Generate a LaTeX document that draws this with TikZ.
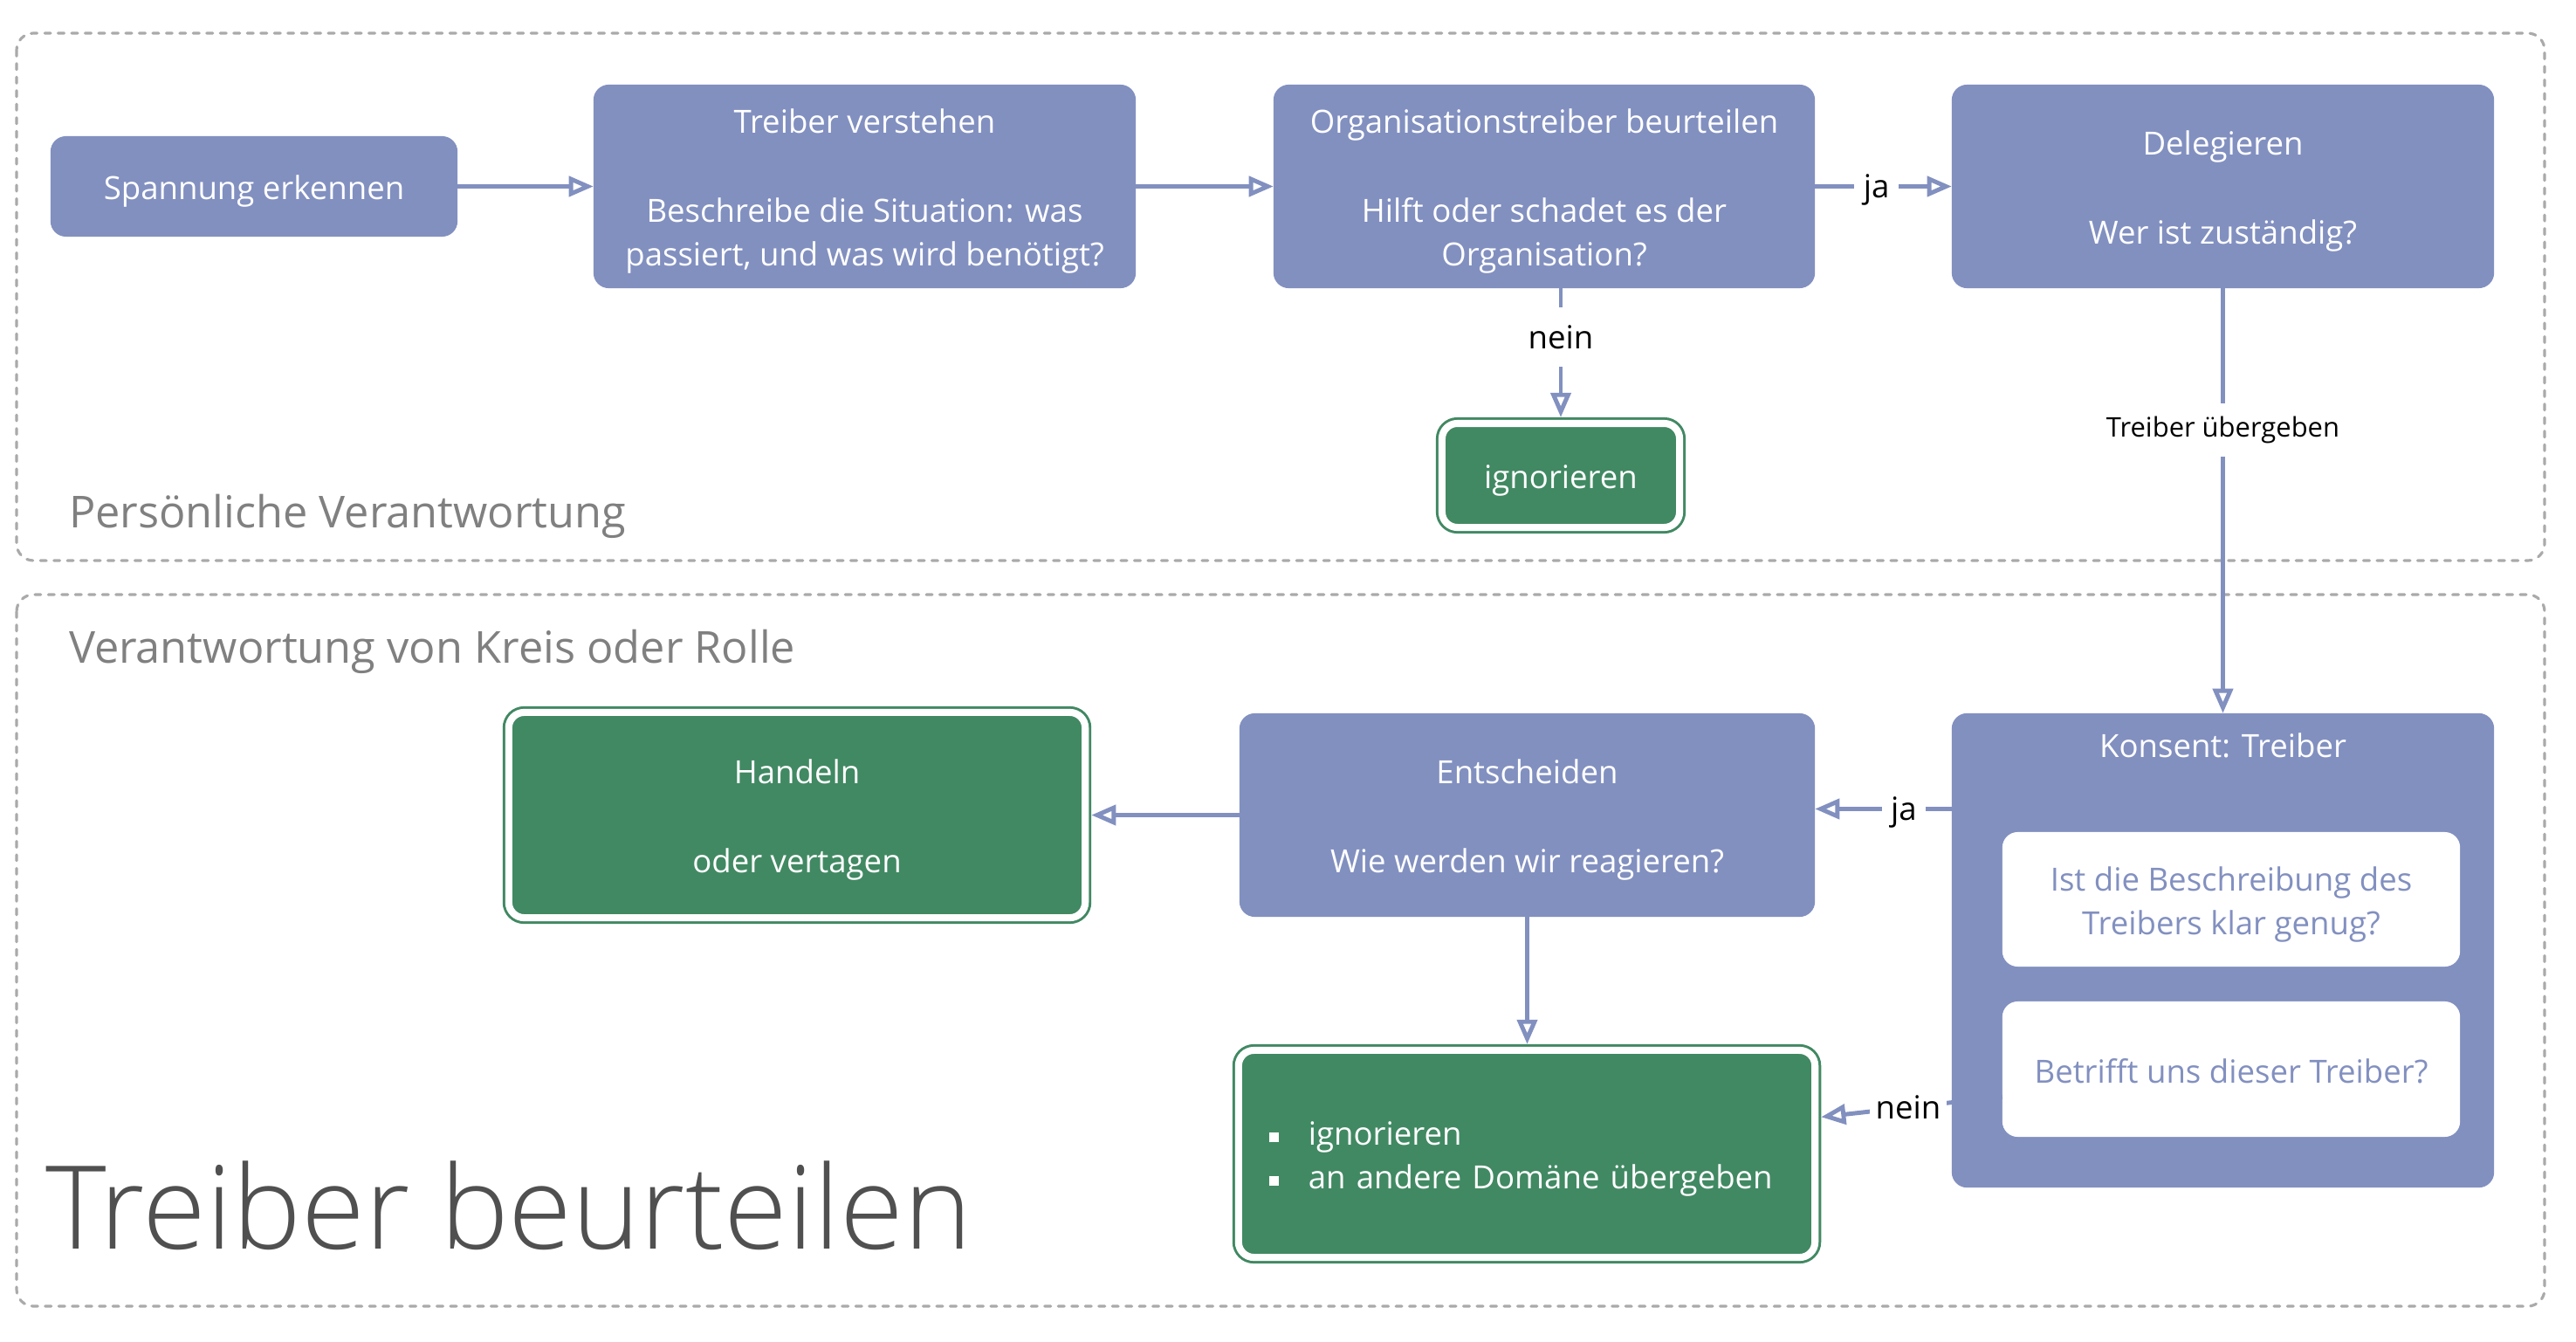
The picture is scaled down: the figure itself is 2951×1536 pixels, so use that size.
\documentclass[tikz,border=0pt]{standalone}
\usepackage{fontspec}
\setmainfont{Open Sans}
\newfontfamily\titlefont{Open Sans Light}
\usetikzlibrary{arrows.meta,calc}
\definecolor{pur}{RGB}{130,144,192}
\definecolor{grn}{RGB}{65,137,99}
\definecolor{dgray}{RGB}{170,170,170}
\definecolor{hgray}{RGB}{128,128,128}
\definecolor{tgray}{RGB}{80,80,80}
\newcommand{\topst}{\rule{0pt}{11.1pt}}
\begin{document}
\begin{tikzpicture}[x=0.01cm,y=-0.01cm,
  every node/.style={inner sep=0pt, outer sep=0pt},
  nfont/.style={font=\fontsize{10.4}{14.2}\selectfont},
  pbox/.style={nfont, rectangle, rounded corners=5pt, fill=pur, text=white, align=center},
  gbox/.style={nfont, rectangle, rounded corners=5pt, fill=grn, draw=grn, line width=0.85pt, double=white, double distance=2.3pt, text=white, outer sep=2pt},
  wbox/.style={nfont, rectangle, rounded corners=5pt, fill=white, text=pur, align=center},
  arr/.style={draw=pur, line width=1.4pt, -{Triangle[open, length=8pt, width=6.5pt]}},
  lbl/.style={nfont, fill=white, text=black, inner xsep=3pt, inner ysep=4pt, text height=9.4pt, text depth=2pt},
  frame/.style={draw=dgray, line width=0.9pt, line cap=round, dash pattern=on 2pt off 2.4pt, rounded corners=5.5pt},
  head/.style={font=\fontsize{14.35}{17}\selectfont, text=hgray, anchor=base west}
]
\path[use as bounding box] (0,0) rectangle (2951,1536);

% frames
\draw[frame] (19,38) rectangle (2915,642);
\draw[frame] (19,681) rectangle (2915,1496);

% headings
\node[head] (h1) at (79,604) {Persönliche Verantwortung};
\node[head] (h2) at (79,759) {Verantwortung von Kreis oder Rolle};
\node[font=\titlefont\fontsize{37.7}{45}\selectfont, text=tgray, anchor=base west] (title) at (52,1430) {Treiber beurteilen};

% top row
\node[pbox, minimum width=4.66cm, minimum height=1.15cm] (sp) at (291,213.5) {\topst Spannung erkennen};
\node[pbox, minimum width=6.21cm, minimum height=2.33cm] (tv) at (990.5,213.5) {\topst Treiber verstehen\\[14.7pt]Beschreibe die Situation: was\\passiert, und was wird benötigt?};
\node[pbox, minimum width=6.20cm, minimum height=2.33cm] (ob) at (1769,213.5) {\topst Organisationstreiber beurteilen\\[14.7pt]Hilft oder schadet es der\\Organisation?};
\node[pbox, minimum width=6.21cm, minimum height=2.33cm] (dl) at (2546.5,213.5) {\topst Delegieren\\[14.7pt]Wer ist zuständig?};
\node[gbox, minimum width=2.72cm, minimum height=1.19cm] (ig) at (1788,544.5) {\topst ignorieren};

% bottom
\node[pbox, minimum width=6.59cm, minimum height=2.33cm] (en) at (1749.5,933.5) {\topst Entscheiden\\[14.7pt]Wie werden wir reagieren?};
\node[pbox, minimum width=6.21cm, minimum height=5.43cm] (ks) at (2546.5,1088.5) {};
\node[nfont, text=white] (kst) at (2546.5,854) {Konsent: Treiber};
\node[wbox, minimum width=5.24cm, minimum height=1.54cm] (q1) at (2556,1030) {\topst Ist die Beschreibung des\\Treibers klar genug?};
\node[wbox, minimum width=5.24cm, minimum height=1.55cm] (q2) at (2556,1224.5) {\rule{0pt}{9.5pt}Betrifft uns dieser Treiber?};
\node[gbox, minimum width=6.60cm, minimum height=2.35cm, align=center] (hd) at (913,933.5) {\topst Handeln\\[14.7pt]oder vertagen};
\node[gbox, minimum width=6.60cm, minimum height=2.37cm, text width=5.9cm, align=left, inner xsep=0.35cm] (ia) at (1749,1321.5) {\topst\makebox[0.45cm][l]{\rule[0.09em]{0.3em}{0.3em}}ignorieren\\\makebox[0.45cm][l]{\rule[0.09em]{0.3em}{0.3em}}an andere Domäne übergeben};

% connectors
\draw[arr] (sp.east) -- (tv.west);
\draw[arr] (tv.east) -- (ob.west);
\draw[arr] (ob.east) -- node[lbl, pos=0.45] (lja1) {ja} (dl.west);
\draw[arr] (ob.south -| ig.north) -- node[lbl, pos=0.38] (lnein1) {nein} (ig.north);
\draw[arr] (dl.south) -- node[lbl, font=\fontsize{8.8}{11}\selectfont, pos=0.333, text height=6.6pt, text depth=1.8pt, inner ysep=4.5pt] (ltu) {Treiber übergeben} (ks.north);
\draw[arr] ([yshift=2pt]ks.west |- en.east) -- node[lbl, pos=0.35] (lja2) {ja} ([yshift=2pt]en.east);
\draw[arr] (en.west) -- (hd.east);
\draw[arr] (en.south) -- (en.south |- ia.north);
\draw[arr] ([yshift=-9pt]q2.west) -- node[lbl, pos=0.52, inner xsep=2pt] (lnein2) {nein} ([yshift=12pt]ia.east);
\end{tikzpicture}
\end{document}
